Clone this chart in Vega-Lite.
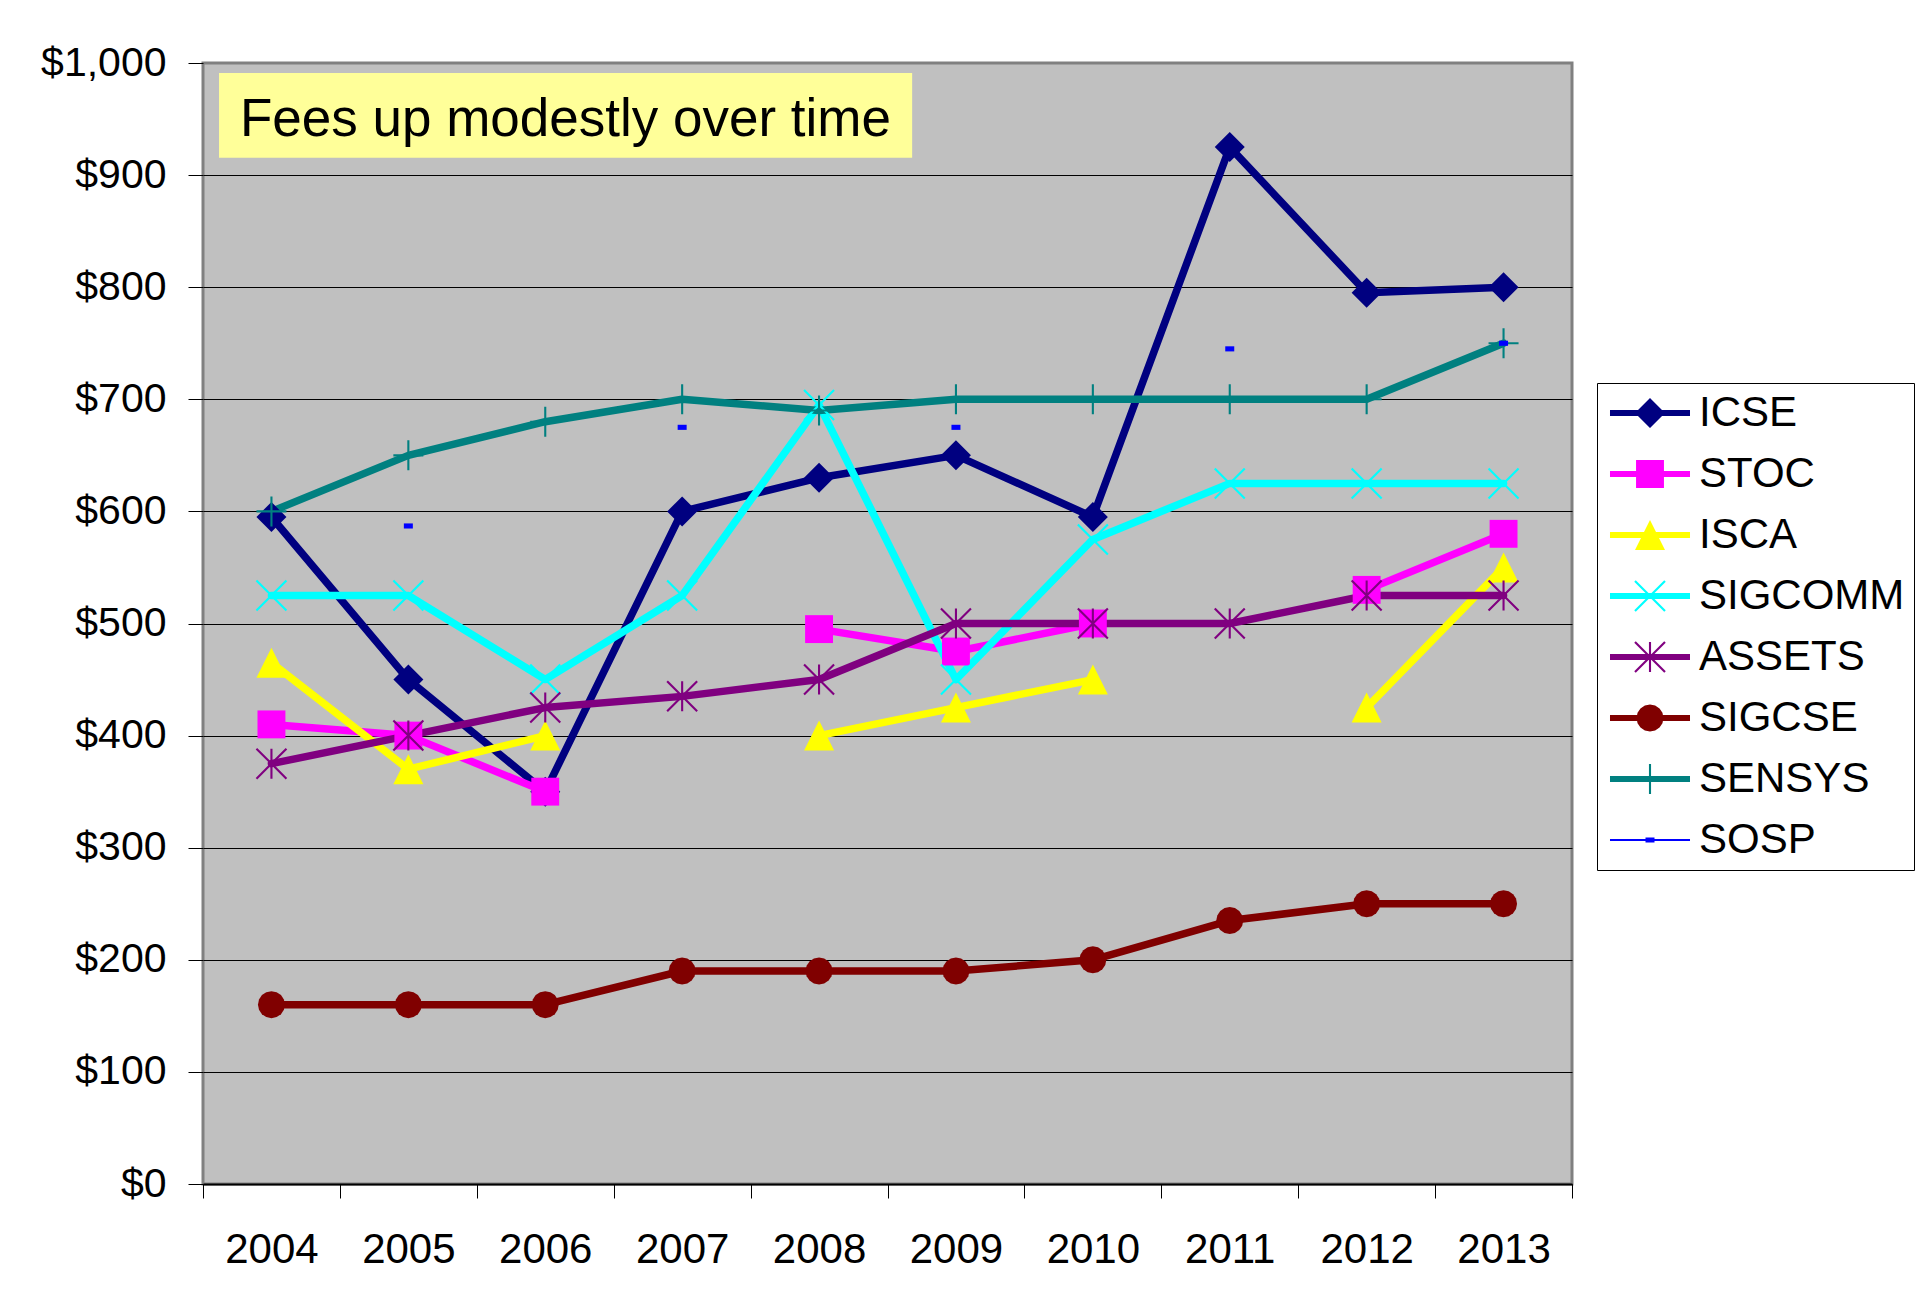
{
  "$schema": "https://vega.github.io/schema/vega-lite/v6.json",
  "width": 1369,
  "height": 1121,
  "autosize": "none",
  "padding": {"left": 203, "top": 63, "right": 357, "bottom": 119},
  "background": "white",
  "config": {
    "font": "Liberation Sans",
    "view": {"fill": "#C0C0C0", "stroke": "#808080", "strokeWidth": 3},
    "axis": {"labelFont": "Liberation Sans", "labelColor": "black", "labelFontSize": 42, "title": null},
    "legend": {"labelFont": "Liberation Sans"},
    "point": {"filled": true, "opacity": 1, "strokeWidth": 0, "size": 900}
  },
  "datasets": {
    "fees": [
      {"conf": "ICSE", "year": "2004", "fee": 595}, {"conf": "ICSE", "year": "2005", "fee": 450}, {"conf": "ICSE", "year": "2006", "fee": 350}, {"conf": "ICSE", "year": "2007", "fee": 600}, {"conf": "ICSE", "year": "2008", "fee": 630}, {"conf": "ICSE", "year": "2009", "fee": 650}, {"conf": "ICSE", "year": "2010", "fee": 595}, {"conf": "ICSE", "year": "2011", "fee": 925}, {"conf": "ICSE", "year": "2012", "fee": 795}, {"conf": "ICSE", "year": "2013", "fee": 800},
      {"conf": "STOC", "year": "2004", "fee": 410}, {"conf": "STOC", "year": "2005", "fee": 400}, {"conf": "STOC", "year": "2006", "fee": 350}, {"conf": "STOC", "year": "2007", "fee": null}, {"conf": "STOC", "year": "2008", "fee": 495}, {"conf": "STOC", "year": "2009", "fee": 475}, {"conf": "STOC", "year": "2010", "fee": 500}, {"conf": "STOC", "year": "2011", "fee": null}, {"conf": "STOC", "year": "2012", "fee": 530}, {"conf": "STOC", "year": "2013", "fee": 580},
      {"conf": "ISCA", "year": "2004", "fee": 465}, {"conf": "ISCA", "year": "2005", "fee": 370}, {"conf": "ISCA", "year": "2006", "fee": 400}, {"conf": "ISCA", "year": "2007", "fee": null}, {"conf": "ISCA", "year": "2008", "fee": 400}, {"conf": "ISCA", "year": "2009", "fee": 425}, {"conf": "ISCA", "year": "2010", "fee": 450}, {"conf": "ISCA", "year": "2011", "fee": null}, {"conf": "ISCA", "year": "2012", "fee": 425}, {"conf": "ISCA", "year": "2013", "fee": 550},
      {"conf": "SIGCOMM", "year": "2004", "fee": 525}, {"conf": "SIGCOMM", "year": "2005", "fee": 525}, {"conf": "SIGCOMM", "year": "2006", "fee": 450}, {"conf": "SIGCOMM", "year": "2007", "fee": 525}, {"conf": "SIGCOMM", "year": "2008", "fee": 695}, {"conf": "SIGCOMM", "year": "2009", "fee": 450}, {"conf": "SIGCOMM", "year": "2010", "fee": 575}, {"conf": "SIGCOMM", "year": "2011", "fee": 625}, {"conf": "SIGCOMM", "year": "2012", "fee": 625}, {"conf": "SIGCOMM", "year": "2013", "fee": 625},
      {"conf": "ASSETS", "year": "2004", "fee": 375}, {"conf": "ASSETS", "year": "2005", "fee": 400}, {"conf": "ASSETS", "year": "2006", "fee": 425}, {"conf": "ASSETS", "year": "2007", "fee": 435}, {"conf": "ASSETS", "year": "2008", "fee": 450}, {"conf": "ASSETS", "year": "2009", "fee": 500}, {"conf": "ASSETS", "year": "2010", "fee": 500}, {"conf": "ASSETS", "year": "2011", "fee": 500}, {"conf": "ASSETS", "year": "2012", "fee": 525}, {"conf": "ASSETS", "year": "2013", "fee": 525},
      {"conf": "SIGCSE", "year": "2004", "fee": 160}, {"conf": "SIGCSE", "year": "2005", "fee": 160}, {"conf": "SIGCSE", "year": "2006", "fee": 160}, {"conf": "SIGCSE", "year": "2007", "fee": 190}, {"conf": "SIGCSE", "year": "2008", "fee": 190}, {"conf": "SIGCSE", "year": "2009", "fee": 190}, {"conf": "SIGCSE", "year": "2010", "fee": 200}, {"conf": "SIGCSE", "year": "2011", "fee": 235}, {"conf": "SIGCSE", "year": "2012", "fee": 250}, {"conf": "SIGCSE", "year": "2013", "fee": 250},
      {"conf": "SENSYS", "year": "2004", "fee": 600}, {"conf": "SENSYS", "year": "2005", "fee": 650}, {"conf": "SENSYS", "year": "2006", "fee": 680}, {"conf": "SENSYS", "year": "2007", "fee": 700}, {"conf": "SENSYS", "year": "2008", "fee": 690}, {"conf": "SENSYS", "year": "2009", "fee": 700}, {"conf": "SENSYS", "year": "2010", "fee": 700}, {"conf": "SENSYS", "year": "2011", "fee": 700}, {"conf": "SENSYS", "year": "2012", "fee": 700}, {"conf": "SENSYS", "year": "2013", "fee": 750},
      {"conf": "SOSP", "year": "2005", "fee": 587}, {"conf": "SOSP", "year": "2007", "fee": 675}, {"conf": "SOSP", "year": "2009", "fee": 675}, {"conf": "SOSP", "year": "2011", "fee": 745}, {"conf": "SOSP", "year": "2013", "fee": 750}
    ]
  },
  "layer": [
    {
      "data": {"name": "fees"},
      "encoding": {
        "x": {"field": "year", "type": "ordinal"},
        "y": {"field": "fee", "type": "quantitative"}
      },
      "layer": [
        {
          "transform": [{"filter": "datum.conf !== 'SOSP'"}],
          "mark": {"type": "line", "strokeWidth": 7.5, "strokeJoin": "round", "strokeCap": "round", "invalid": "break-paths-filter-domains"},
          "encoding": {
            "x": {
              "field": "year", "type": "ordinal",
              "scale": {"type": "band", "domain": ["2004","2005","2006","2007","2008","2009","2010","2011","2012","2013"], "paddingInner": 0, "paddingOuter": 0},
              "axis": {"tickBand": "extent", "labelAngle": 0, "tickSize": 14, "tickColor": "black", "tickWidth": 1, "labelPadding": 31, "domainColor": "black", "domainWidth": 2, "grid": false, "labelFontSize": 42}
            },
            "y": {
              "field": "fee", "type": "quantitative",
              "scale": {"domain": [0, 1000], "nice": false, "zero": true},
              "axis": {
                "values": [0, 100, 200, 300, 400, 500, 600, 700, 800, 900, 1000],
                "format": "$,.0f",
                "grid": true,
                "gridColor": {"condition": {"test": "datum.value === 1000", "value": "#808080"}, "value": "black"},
                "gridWidth": 1,
                "domain": false,
                "tickSize": 15, "tickColor": "black", "tickWidth": 1,
                "labelPadding": 22, "labelFontSize": 41
              }
            },
            "stroke": {
              "field": "conf", "type": "nominal",
              "scale": {"domain": ["ICSE","STOC","ISCA","SIGCOMM","ASSETS","SIGCSE","SENSYS","SOSP"], "range": ["#000080","#FF00FF","#FFFF00","#00FFFF","#800080","#800000","#008080","#0000FF"]},
              "legend": {
                "orient": "none", "legendX": 1394, "legendY": 320,
                "title": null,
                "padding": 9, "symbolOffset": 23, "labelOffset": 28, "rowPadding": 19,
                "labelFontSize": 42, "labelColor": "black", "labelLimit": 400,
                "strokeColor": "black", "fillColor": "white", "cornerRadius": 0,
                "symbolSize": 900, "symbolStrokeWidth": 0, "symbolOpacity": 1,
                "encode": {
                  "symbols": {
                    "update": {
                      "shape": {"signal": "datum.value === 'ICSE' ? 'M-2.667,-0.2H2.667V0.2H-2.667Z M0,-1L1,0L0,1L-1,0Z' : datum.value === 'STOC' ? 'M-2.667,-0.2H2.667V0.2H-2.667Z M-0.93,-0.93H0.93V0.93H-0.93Z' : datum.value === 'ISCA' ? 'M-2.667,-0.2H2.667V0.2H-2.667Z M0,-1L1,1L-1,1Z' : datum.value === 'SIGCOMM' ? 'M-2.667,-0.2H2.667V0.2H-2.667Z M-0.95,-1.05L1.05,0.95L0.95,1.05L-1.05,-0.95Z M1.05,-0.95L-0.95,1.05L-1.05,0.95L0.95,-1.05Z' : datum.value === 'ASSETS' ? 'M-2.667,-0.2H2.667V0.2H-2.667Z M-0.95,-1.05L1.05,0.95L0.95,1.05L-1.05,-0.95Z M1.05,-0.95L-0.95,1.05L-1.05,0.95L0.95,-1.05Z M-0.07,-1H0.07V1H-0.07Z' : datum.value === 'SIGCSE' ? 'M-2.667,-0.2H2.667V0.2H-2.667Z M0.9,0L0.831,0.344L0.636,0.636L0.344,0.831L0,0.9L-0.344,0.831L-0.636,0.636L-0.831,0.344L-0.9,0L-0.831,-0.344L-0.636,-0.636L-0.344,-0.831L0,-0.9L0.344,-0.831L0.636,-0.636L0.831,-0.344Z' : datum.value === 'SENSYS' ? 'M-2.667,-0.2H2.667V0.2H-2.667Z M-0.07,-1H0.07V1H-0.07Z' : 'M-2.667,-0.067H2.667V0.067H-2.667Z M-0.3,-0.17H0.3V0.17H-0.3Z'"},
                      "size": {"value": 900},
                      "fill": {"scale": "stroke", "field": "value"},
                      "strokeWidth": {"value": 0},
                      "opacity": {"value": 1}
                    }
                  }
                }
              }
            }
          }
        },
        {"transform": [{"filter": "datum.conf === 'ICSE'"}], "mark": {"type": "point", "shape": "M0,-1L1,0L0,1L-1,0Z", "color": "#000080"}},
        {"transform": [{"filter": "datum.conf === 'STOC'"}], "mark": {"type": "point", "shape": "M-0.93,-0.93H0.93V0.93H-0.93Z", "color": "#FF00FF"}},
        {"transform": [{"filter": "datum.conf === 'ISCA'"}], "mark": {"type": "point", "shape": "M0,-1L1,1L-1,1Z", "color": "#FFFF00"}},
        {"transform": [{"filter": "datum.conf === 'SIGCOMM'"}], "mark": {"type": "point", "shape": "M-0.95,-1.05L1.05,0.95L0.95,1.05L-1.05,-0.95Z M1.05,-0.95L-0.95,1.05L-1.05,0.95L0.95,-1.05Z", "color": "#00FFFF"}},
        {"transform": [{"filter": "datum.conf === 'ASSETS'"}], "mark": {"type": "point", "shape": "M-0.95,-1.05L1.05,0.95L0.95,1.05L-1.05,-0.95Z M1.05,-0.95L-0.95,1.05L-1.05,0.95L0.95,-1.05Z M-0.07,-1H0.07V1H-0.07Z", "color": "#800080"}},
        {"transform": [{"filter": "datum.conf === 'SIGCSE'"}], "mark": {"type": "point", "shape": "M0.9,0L0.831,0.344L0.636,0.636L0.344,0.831L0,0.9L-0.344,0.831L-0.636,0.636L-0.831,0.344L-0.9,0L-0.831,-0.344L-0.636,-0.636L-0.344,-0.831L0,-0.9L0.344,-0.831L0.636,-0.636L0.831,-0.344Z", "color": "#800000"}},
        {"transform": [{"filter": "datum.conf === 'SENSYS'"}], "mark": {"type": "point", "shape": "M-0.07,-1H0.07V1H-0.07Z M-1,-0.07H1V0.07H-1Z", "color": "#008080"}},
        {"transform": [{"filter": "datum.conf === 'SOSP'"}], "mark": {"type": "point", "shape": "M-0.3,-0.17H0.3V0.17H-0.3Z", "color": "#0000FF"}}
      ]
    },
    {
      "data": {"values": [{}]},
      "mark": {"type": "rect", "color": "#FFFF99"},
      "encoding": {
        "x": {"datum": 0.117, "type": "quantitative", "scale": {"domain": [0, 10], "nice": false, "zero": false}, "axis": null},
        "x2": {"datum": 5.18},
        "y": {"datum": 991, "type": "quantitative"},
        "y2": {"datum": 915.5}
      }
    },
    {
      "data": {"values": [{"note": "Fees up modestly over time"}]},
      "mark": {"type": "text", "align": "left", "baseline": "middle", "fontSize": 53, "font": "Liberation Sans", "color": "black"},
      "encoding": {
        "x": {"datum": 0.27, "type": "quantitative", "scale": {"domain": [0, 10], "nice": false, "zero": false}, "axis": null},
        "y": {"datum": 949.5, "type": "quantitative"},
        "text": {"field": "note", "type": "nominal"}
      }
    }
  ],
  "resolve": {"scale": {"x": "independent"}, "axis": {"x": "independent"}}
}
